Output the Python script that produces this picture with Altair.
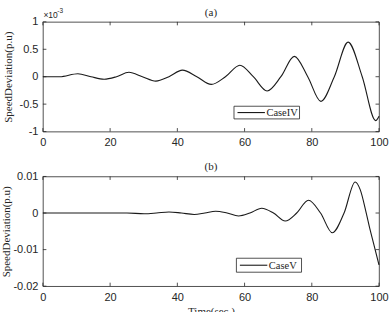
import altair as alt
import pandas as pd

# Panel (a): values in units of 1e-3
a_time = [0, 5, 10.4, 14.3, 18.2, 21.9, 25.6, 29.6, 33.6, 37.5, 41.5, 45.8, 50.1, 54.3,
          58.6, 62.6, 66.7, 70.8, 74.8, 78.8, 82.7, 86.7, 90.8, 95.0, 99.0, 100]
a_dev = [0, 0, 0.055, 0, -0.045, 0, 0.08, 0, -0.08, 0, 0.12, 0, -0.14, 0,
         0.21, 0, -0.26, 0, 0.37, 0, -0.45, 0, 0.63, 0, -0.80, -0.72]

# Panel (b)
b_time = [0, 25, 30.1, 33.8, 37.5, 41.2, 45, 48.2, 51.4, 54.8, 58.2, 61.6, 65.1, 68.6,
          72.1, 75.5, 79.0, 82.6, 86.1, 89.6, 92.9, 94.4, 96.2, 97.3, 98.3, 100]
b_dev = [0, 0, -0.0002, 0, 0.0003, 0, -0.0004, 0, 0.0005, 0, -0.0008, 0, 0.0013, 0,
         -0.0022, 0, 0.0035, 0, -0.0054, 0, 0.0085, 0.0064, 0, -0.0044, -0.008, -0.0142]

x_ticks = [0, 20, 40, 60, 80, 100]
a_yticks = [-1, -0.5, 0, 0.5, 1]
b_yticks = [-0.02, -0.01, 0, 0.01]

W, H = 337, 110
INK = "#262626"
SANS = "Liberation Sans"
SERIF = "Liberation Serif"
TICK = 3.5


def panel(times, devs, yticks, ydom, name, title, title_y, leg, show_xtitle, exp_label, ytitle_x):
    df = pd.DataFrame({"t": times, "v": devs})
    xs = alt.Scale(domain=[0, 100], nice=False, zero=False)
    ys = alt.Scale(domain=ydom, nice=False, zero=False)
    xaxis = alt.Axis(values=x_ticks, ticks=False, domain=False, grid=False,
                     labelFont=SANS, labelFontSize=11, labelColor=INK, labelPadding=5,
                     labelOverlap=False, labelFlush=False,
                     title="Time(sec.)" if show_xtitle else None,
                     titleFont=SERIF, titleFontSize=11, titleFontWeight="normal",
                     titleColor=INK, titlePadding=3)
    yaxis = alt.Axis(values=yticks, ticks=False, domain=False, grid=False,
                     labelFont=SANS, labelFontSize=11, labelColor=INK, labelPadding=5,
                     labelOverlap=False, labelFlush=False,
                     labelExpr="'' + datum.value",
                     title="SpeedDeviation(p.u)", titleFont=SERIF, titleFontSize=11,
                     titleFontWeight="normal", titleColor=INK, titleX=ytitle_x)
    line = alt.Chart(df).mark_line(interpolate="monotone", strokeWidth=1.1,
                                   color="#1a1a1a").encode(
        x=alt.X("t:Q", scale=xs, axis=xaxis),
        y=alt.Y("v:Q", scale=ys, axis=yaxis),
    )
    xt = pd.DataFrame({"t": x_ticks})
    yt = pd.DataFrame({"v": yticks})
    xtick_b = alt.Chart(xt).mark_rule(color=INK, strokeWidth=0.8).encode(
        x=alt.X("t:Q", scale=xs, axis=xaxis), y=alt.value(H - TICK), y2=alt.value(H))
    xtick_t = alt.Chart(xt).mark_rule(color=INK, strokeWidth=0.8).encode(
        x=alt.X("t:Q", scale=xs, axis=xaxis), y=alt.value(0), y2=alt.value(TICK))
    ytick_l = alt.Chart(yt).mark_rule(color=INK, strokeWidth=0.8).encode(
        y=alt.Y("v:Q", scale=ys, axis=yaxis), x=alt.value(0), x2=alt.value(TICK))
    ytick_r = alt.Chart(yt).mark_rule(color=INK, strokeWidth=0.8).encode(
        y=alt.Y("v:Q", scale=ys, axis=yaxis), x=alt.value(W - TICK), x2=alt.value(W))

    lx0, ly0, lx1, ly1 = leg
    lname = pd.DataFrame({"k": [name]})
    leg_box = alt.Chart(lname).mark_rect(fill="white", stroke=INK, strokeWidth=0.8).encode(
        x=alt.value(lx0), x2=alt.value(lx1), y=alt.value(ly0), y2=alt.value(ly1))
    ym = (ly0 + ly1) / 2
    leg_line = alt.Chart(lname).mark_rule(color="#1a1a1a", strokeWidth=1.1).encode(
        x=alt.value(lx0 + 3.5), x2=alt.value(lx0 + 31), y=alt.value(ym))
    leg_text = alt.Chart(lname).mark_text(font=SERIF, fontSize=10.5, color=INK,
                                          align="left", baseline="middle").encode(
        text="k:N", x=alt.value(lx0 + 32.5), y=alt.value(ym + 0.5))

    ttl = alt.Chart(pd.DataFrame({"k": [title]})).mark_text(
        font=SERIF, fontSize=11, color=INK, align="center", baseline="alphabetic"
    ).encode(text="k:N", x=alt.value(W / 2), y=alt.value(title_y))

    layers = [line, xtick_b, xtick_t, ytick_l, ytick_r, leg_box, leg_line, leg_text, ttl]
    if exp_label:
        ex1 = alt.Chart(pd.DataFrame({"k": ["×10"]})).mark_text(
            font=SANS, fontSize=8.5, color=INK, align="left", baseline="alphabetic"
        ).encode(text="k:N", x=alt.value(0.5), y=alt.value(-3.4))
        ex2 = alt.Chart(pd.DataFrame({"k": ["-3"]})).mark_text(
            font=SANS, fontSize=6.5, color=INK, align="left", baseline="alphabetic"
        ).encode(text="k:N", x=alt.value(14.5), y=alt.value(-8.4))
        layers += [ex1, ex2]
    return alt.layer(*layers).properties(width=W, height=H)


top = panel(a_time, a_dev, a_yticks, [-1, 1], "CaseIV", "(a)", -5.5,
            (191.6, 84.6, 257.3, 97.3), False, True, -29)
bot = panel(b_time, b_dev, b_yticks, [-0.02, 0.01], "CaseV", "(b)", -6,
            (194, 82, 259.3, 96), True, False, -31)

chart = alt.vconcat(top, bot, spacing=45, bounds="flush").resolve_scale(
    y="independent"
).configure(
    background="white",
    view=alt.ViewConfig(stroke=INK, strokeWidth=0.8),
).properties(
    padding={"left": 0, "top": 6.5, "right": 0, "bottom": 0}
)

chart.save("out.html", embed_options={"renderer": "svg", "actions": False})
